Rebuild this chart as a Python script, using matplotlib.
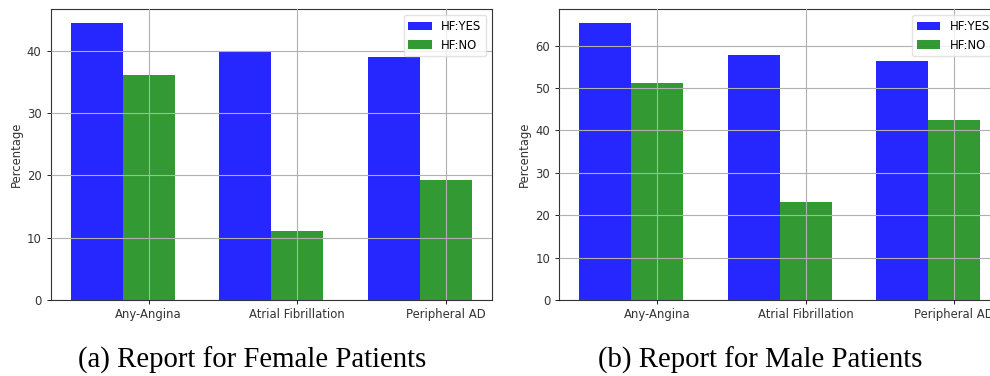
import matplotlib
matplotlib.use("Agg")
import matplotlib.pyplot as plt
import numpy as np

categories = ["Any-Angina", "Atrial Fibrillation", "Peripheral AD"]
female_yes = [44.4, 39.7, 38.9]
female_no = [36.1, 11.0, 19.2]
male_yes = [65.3, 57.8, 56.4]
male_no = [51.1, 23.2, 42.4]
series_labels = ["HF:YES", "HF:NO"]
captions = ["(a) Report for Female Patients", "(b) Report for Male Patients"]

W, H = 990, 376
fig = plt.figure(figsize=(W / 100, H / 100), dpi=100)

fs = 8.4
width = 0.35


def panel(rect, yes, no, yticks):
    ax = fig.add_axes(rect)
    x = np.arange(len(categories))
    ax.bar(x, yes, width, color="blue", alpha=0.85, label=series_labels[0], zorder=1)
    ax.bar(x + width, no, width, color="green", alpha=0.8, label=series_labels[1], zorder=1)
    ax.set_xticks(x + width)
    ax.set_xticklabels(categories, fontsize=fs, color="#333333")
    ax.set_yticks(yticks)
    ax.tick_params(axis="y", labelsize=fs, labelcolor="#333333", length=3, width=0.6)
    ax.tick_params(axis="x", length=3, width=0.6, pad=3)
    ax.set_ylabel("Percentage", fontsize=fs, color="#333333", labelpad=3)
    ax.grid(True, color="#b0b0b0", linewidth=0.8, zorder=3)
    ax.set_axisbelow(False)
    for s in ax.spines.values():
        s.set_linewidth(0.8)
        s.set_color("#333333")
    ax.legend(loc="upper right", fontsize=fs, framealpha=0.8,
              edgecolor="#dddddd", handlelength=2.0, borderpad=0.4)
    return ax


ax1 = panel([50.7 / W, 76 / H, 441 / W, 290.7 / H], female_yes, female_no, [0, 10, 20, 30, 40])
ax2 = panel([559.3 / W, 76 / H, 441 / W, 290.7 / H], male_yes, male_no, [0, 10, 20, 30, 40, 50, 60])
ax2.spines["right"].set_visible(False)

fig.text(252 / W, 1 - 360 / H, captions[0], fontsize=20.7, family="Liberation Serif",
         ha="center", va="center")
fig.text(760 / W, 1 - 360 / H, captions[1], fontsize=20.7, family="Liberation Serif",
         ha="center", va="center")

fig.savefig("out.png", dpi=100)
